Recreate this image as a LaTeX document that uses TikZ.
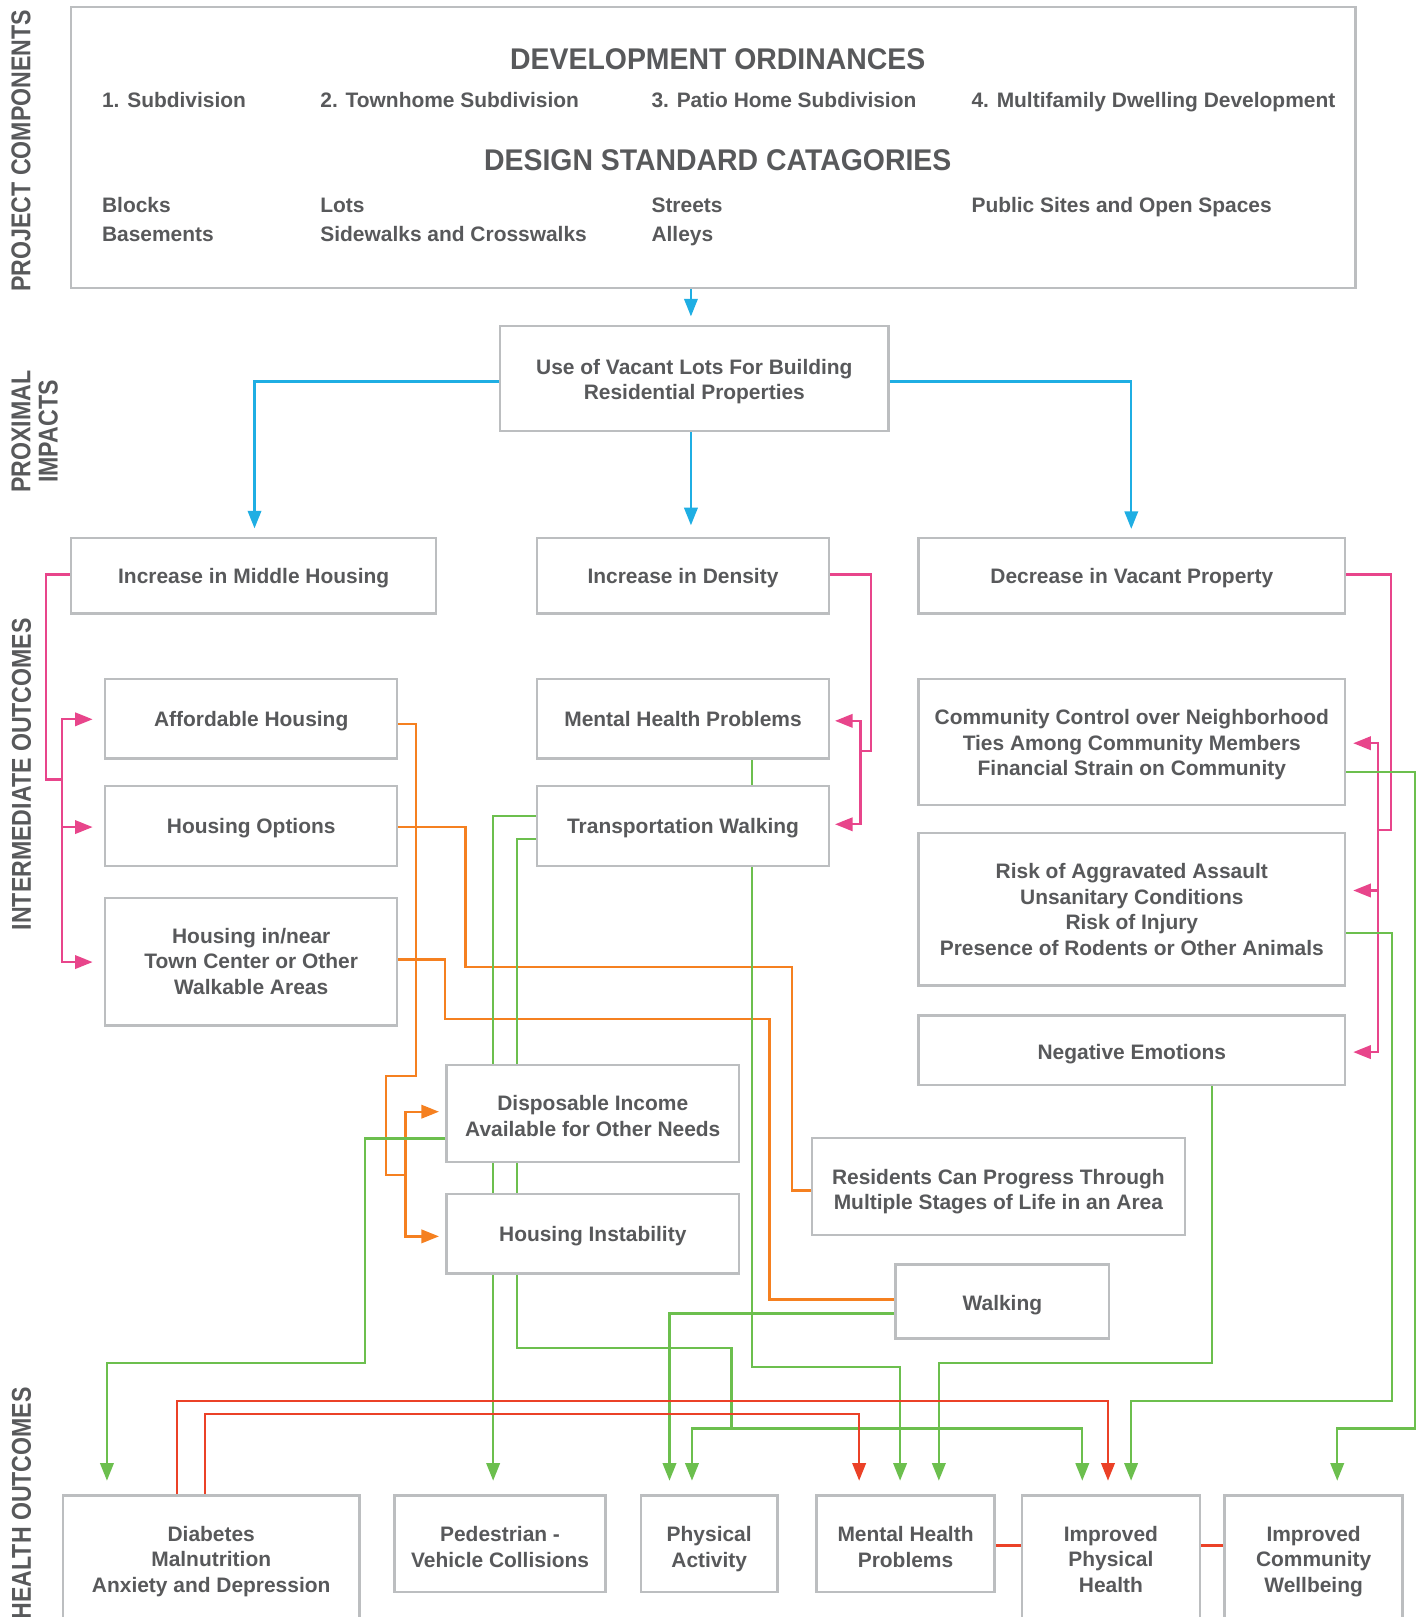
\documentclass[tikz,border=0pt]{standalone}
\usepackage{fontspec}
\setmainfont{Liberation Sans}
\newfontfamily\headfont[FakeStretch=0.95]{Liberation Sans}
\newfontfamily\sidefont[FakeStretch=0.85]{Liberation Sans}
\usetikzlibrary{arrows.meta,calc,backgrounds}
\definecolor{cText}{HTML}{58595B}
\definecolor{cBox}{HTML}{BCBEC0}
\definecolor{cBlue}{HTML}{1FAEE3}
\definecolor{cPink}{HTML}{E8458B}
\definecolor{cOrange}{HTML}{F58020}
\definecolor{cGreen}{HTML}{6CBF4E}
\definecolor{cRed}{HTML}{EB4127}
\newcommand{\firstln}[1]{\rule{0pt}{#1pt}}
\begin{document}
\begin{tikzpicture}[x=1pt,y=-1pt,
  box/.style={draw=cBox,line width=2.4pt,fill=white,text=cText,align=center,inner sep=0pt,
    font=\fontsize{20.3}{24.7}\selectfont\bfseries,
    execute at begin node={\rule{0pt}{19.6pt}},
    execute at end node={\rule[-5pt]{0pt}{5pt}}},
  top/.style={execute at begin node={\rule{0pt}{#1pt}}},
  itemtxt/.style={text=cText,inner sep=0pt,anchor=base west,font=\fontsize{20.3}{24.7}\selectfont\bfseries},
  headtxt/.style={text=cText,inner sep=0pt,anchor=base,font=\headfont\fontsize{29}{30}\selectfont\bfseries},
  sidetxt/.style={text=cText,inner sep=0pt,rotate=90,align=center,font=\sidefont\fontsize{26.4}{26.4}\selectfont\bfseries},
  conn/.style={line width=2.2pt},
  tipped/.style={-{Triangle[length=17pt,width=13pt]}},
  lblue/.style={conn,draw=cBlue},
  lpink/.style={conn,draw=cPink},
  lorange/.style={conn,draw=cOrange},
  lgreen/.style={conn,draw=cGreen},
  lred/.style={conn,draw=cRed}
]
\useasboundingbox (0,0) rectangle (1378,1568);

% ---------- side labels ----------
\node[sidetxt] (sPC) at (20.4,146.3) {PROJECT COMPONENTS};
\node[sidetxt] (sPI) at (33.6,418.5) {PROXIMAL\\IMPACTS};
\node[sidetxt] (sIO) at (20.9,750.7) {INTERMEDIATE OUTCOMES};
\node[sidetxt] (sHO) at (20.9,1457.7) {HEALTH OUTCOMES};

% ---------- project components box ----------
\node[box,minimum width=1245.2pt,minimum height=272.3pt] (pc) at (691.6,143) {};
\node[headtxt] (h1) at (696,67.5) {DEVELOPMENT ORDINANCES};
\node[headtxt] (h2) at (696,164.9) {DESIGN STANDARD CATAGORIES};
\node[itemtxt] (o1) at (98.8,104.3) {1. Subdivision};
\node[itemtxt] (o2) at (310.5,104.3) {2. Townhome Subdivision};
\node[itemtxt] (o3) at (631.6,104.3) {3. Patio Home Subdivision};
\node[itemtxt] (o4) at (941.9,104.3) {4. Multifamily Dwelling Development};
\node[itemtxt] (d1a) at (98.8,206.3) {Blocks};
\node[itemtxt] (d1b) at (98.8,233.9) {Basements};
\node[itemtxt] (d2a) at (310.5,206.3) {Lots};
\node[itemtxt] (d2b) at (310.5,233.9) {Sidewalks and Crosswalks};
\node[itemtxt] (d3a) at (631.6,206.3) {Streets};
\node[itemtxt] (d3b) at (631.6,233.9) {Alleys};
\node[itemtxt] (d4a) at (941.9,206.3) {Public Sites and Open Spaces};

% ---------- proximal ----------
\node[box,minimum width=376.6pt,minimum height=102pt] (use) at (673.3,367) {\firstln{21.8}Use of Vacant Lots For Building\\Residential Properties};

% ---------- intermediate ----------
\node[box,minimum width=354pt,minimum height=73.5pt] (mh) at (246,558.3) {Increase in Middle Housing};
\node[box,minimum width=283.5pt,minimum height=73.5pt] (dens) at (662.3,558.3) {Increase in Density};
\node[box,minimum width=413.7pt,minimum height=73.5pt] (vac) at (1097.5,558.3) {Decrease in Vacant Property};

\node[box,top=17.6,minimum width=283.2pt,minimum height=77.2pt] (aff) at (243.6,697) {Affordable Housing};
\node[box,minimum width=283.5pt,minimum height=77.2pt] (mhi) at (662.3,697) {Mental Health Problems};
\node[box,minimum width=413.7pt,minimum height=121.9pt] (cc) at (1097.5,719.4) {\firstln{20.8}Community Control over Neighborhood\\Ties Among Community Members\\Financial Strain on Community};

\node[box,minimum width=283.2pt,minimum height=77.3pt] (ho) at (243.6,800.9) {Housing Options};
\node[box,minimum width=283.5pt,minimum height=77.3pt] (tw) at (662.3,800.9) {Transportation Walking};
\node[box,minimum width=413.7pt,minimum height=147.9pt] (risk) at (1097.5,881.7) {\firstln{19.8}Risk of Aggravated Assault\\Unsanitary Conditions\\Risk of Injury\\Presence of Rodents or Other Animals};

\node[box,minimum width=283.2pt,minimum height=123.7pt] (hn) at (243.6,932.6) {\firstln{18.8}Housing in/near\\Town Center or Other\\Walkable Areas};
\node[box,top=22.6,minimum width=413.7pt,minimum height=67.5pt] (ne) at (1097.5,1018.5) {Negative Emotions};

\node[box,minimum width=283.5pt,minimum height=93.7pt] (di) at (574.8,1079.7) {\firstln{24.8}Disposable Income\\Available for Other Needs};
\node[box,minimum width=283.5pt,minimum height=77.3pt] (hi) at (574.8,1196.2) {Housing Instability};
\node[box,minimum width=361.8pt,minimum height=94pt] (rc) at (968.1,1150.6) {\firstln{24.8}Residents Can Progress Through\\Multiple Stages of Life in an Area};
\node[box,top=22.6,minimum width=207.1pt,minimum height=71.8pt] (wk) at (972,1261.9) {Walking};

% ---------- health outcomes ----------
\node[box,minimum width=287.6pt,minimum height=122pt] (db) at (204.8,1511) {\firstln{21.8}Diabetes\\Malnutrition\\Anxiety and Depression};
\node[box,minimum width=204.8pt,minimum height=93.8pt] (pv) at (484.9,1496.9) {\firstln{25.8}Pedestrian -\\Vehicle Collisions};
\node[box,minimum width=132.3pt,minimum height=93.8pt] (pa) at (687.7,1496.9) {\firstln{25.8}Physical\\Activity};
\node[box,minimum width=172.4pt,minimum height=93.8pt] (mhh) at (878.1,1496.9) {\firstln{25.8}Mental Health\\Problems};
\node[box,minimum width=172.4pt,minimum height=122pt] (iph) at (1077.2,1511) {\firstln{21.8}Improved\\Physical\\Health};
\node[box,minimum width=172.4pt,minimum height=122pt] (icw) at (1273.8,1511) {\firstln{21.8}Improved\\Community\\Wellbeing};

% ---------- connectors ----------
\begin{scope}[on background layer]
\fill[white] (0,0) rectangle (1378,1568);

% blue
\draw[lblue,tipped] (pc.south -| 670,0) -- ($(use.north -| 670,0)+(0,-8)$);
\draw[lblue,tipped] (use.west |- 0,370) -| ($(mh.north -| 246.8,0)+(0,-8)$);
\draw[lblue,tipped] (use.south -| 670,0) -- ($(dens.north -| 670,0)+(0,-11)$);
\draw[lblue,tipped] (use.east |- 0,370) -| ($(vac.north -| 1097,0)+(0,-7.5)$);

% pink
\coordinate (pL) at (60.1,756);
\draw[lpink] (mh.west |- 0,557) -| (44.5,756) -- (pL);
\draw[lpink,tipped] (pL) |- ($(aff.west |- 0,697.5)+(-11,0)$);
\draw[lpink,tipped] (pL) |- ($(ho.west |- 0,802)+(-11,0)$);
\draw[lpink,tipped] (pL) |- ($(hn.west |- 0,932.9)+(-11,0)$);

\coordinate (pD) at (834.5,728.3);
\draw[lpink] (dens.east |- 0,557) -| (844.5,728.3) -- (pD);
\draw[lpink,tipped] (pD) |- ($(mhi.east |- 0,699)+(4.5,0)$);
\draw[lpink,tipped] (pD) |- ($(tw.east |- 0,799.3)+(4.5,0)$);

\coordinate (pV) at (1336,804.5);
\draw[lpink] (vac.east |- 0,557) -| (1348.9,804.5) -- (pV);
\draw[lpink,tipped] (pV) |- ($(cc.east |- 0,720.7)+(6.7,0)$);
\draw[lpink,tipped] (pV) |- ($(risk.east |- 0,863.5)+(6.7,0)$);
\draw[lpink,tipped] (pV) |- ($(ne.east |- 0,1020.2)+(6.7,0)$);

% orange
\coordinate (oJ) at (393.1,1139.1);
\draw[lorange] (aff.east |- 0,702) -| (403.4,1043.5) -| (374.3,1139.1) -- (oJ);
\draw[lorange,tipped] (oJ) |- ($(di.west |- 0,1078)+(-6.2,0)$);
\draw[lorange,tipped] (oJ) |- ($(hi.west |- 0,1198.9)+(-6.2,0)$);
\draw[lorange] (ho.east |- 0,801.8) -| (451.5,937.9) -| (768.1,1154.3) -- (rc.west |- 0,1154.3);
\draw[lorange] (hn.east |- 0,930.3) -| (431.4,988.4) -| (746.1,1260) -- (wk.west |- 0,1260);

% green
\draw[lgreen,tipped] (mhi.south -| 729.1,0) |- (872.8,1325.6) -- ($(mhh.north -| 872.8,0)+(0,-13)$);
\draw[lgreen,tipped] (tw.west |- 0,791) -| ($(pv.north -| 478.2,0)+(0,-13)$);
\coordinate (gJ) at (709.3,1385.1);
\draw[lgreen] (tw.west |- 0,813.5) -| (501,1307.2) -| (gJ);
\draw[lgreen,tipped] (gJ) -| ($(pa.north -| 671,0)+(0,-13)$);
\draw[lgreen,tipped] (gJ) -| ($(iph.north -| 1049.5,0)+(0,-13)$);
\draw[lgreen,tipped] (di.west |- 0,1103.9) -| (354,1321.8) -| ($(db.north -| 103.7,0)+(0,-13)$);
\draw[lgreen,tipped] (wk.west |- 0,1273.6) -| ($(pa.north -| 649.2,0)+(0,-13)$);
\draw[lgreen,tipped] (ne.south -| 1175.5,0) |- (910.4,1321.8) -- ($(mhh.north -| 910.4,0)+(0,-13)$);
\draw[lgreen,tipped] (risk.east |- 0,905) -| (1349.9,1358.3) -| ($(iph.north -| 1096.8,0)+(0,-13)$);
\draw[lgreen,tipped] (cc.east |- 0,748.4) -| (1372,1385.1) -| ($(icw.north -| 1296.7,0)+(0,-13)$);

% red
\draw[lred,tipped] (db.north -| 171.9,0) |- (1074.4,1358.3) -- ($(iph.north -| 1074.4,0)+(0,-13)$);
\draw[lred,tipped] (db.north -| 199,0) |- (833.1,1371) -- ($(mhh.north -| 833.1,0)+(0,-13)$);
\draw[lred] (mhh.east |- 0,1498.6) -- (iph.west |- 0,1498.6);
\draw[lred] (iph.east |- 0,1498.6) -- (icw.west |- 0,1498.6);
\end{scope}
\end{tikzpicture}
\end{document}
